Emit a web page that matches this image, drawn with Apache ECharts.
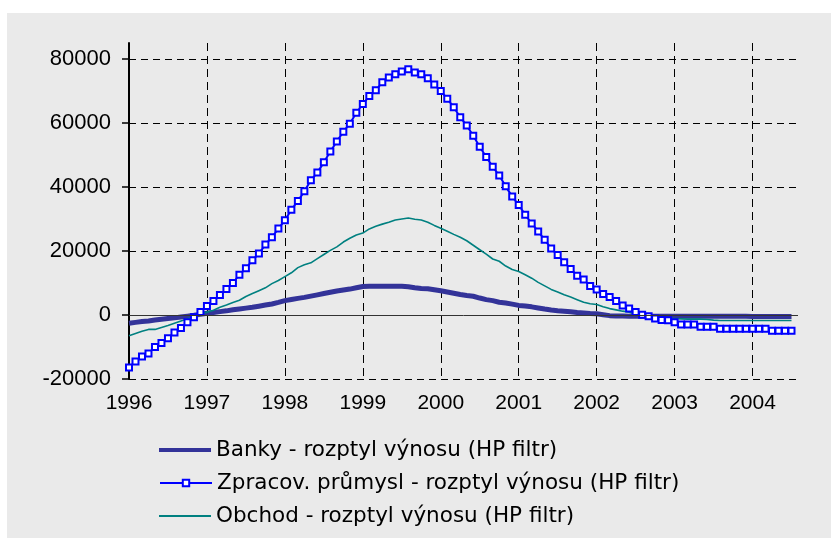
<!DOCTYPE html>
<html>
<head>
<meta charset="utf-8">
<script src="https://cdn.jsdelivr.net/npm/echarts@6/dist/echarts.min.js"></script>
<style>
body{margin:0;background:#fff;}
#frame{position:absolute;left:7px;top:13px;width:824px;height:525px;background:#eaeaea;}
#chart{position:absolute;left:0;top:0;width:831px;height:538px;}
</style>
</head>
<body>
<div id="frame"></div>
<div id="chart"></div>
<script>
// monthly data, Jan 1996 .. Jul 2004
var years = ['1996','1997','1998','1999','2000','2001','2002','2003','2004'];
var yTicks = [-20000, 0, 20000, 40000, 60000, 80000];
var names = [
    'Banky - rozptyl výnosu (HP filtr)',
    'Zpracov. průmysl - rozptyl výnosu (HP filtr)',
    'Obchod - rozptyl výnosu (HP filtr)'
];

var banky = [
    -2600,-2300,-2050,-1850,-1550,-1300,-1100,-900,-600,-350,-100,200,
    550,800,1050,1300,1650,1900,2150,2400,2750,3100,3450,3950,
    4500,4850,5200,5500,5900,6300,6700,7100,7500,7800,8100,8500,
    8900,8950,9000,9000,9000,9000,8950,8800,8500,8300,8200,7900,
    7600,7200,6800,6400,6100,5850,5300,4800,4500,4000,3750,3400,
    3000,2800,2550,2200,1850,1550,1350,1200,1000,800,650,500,
    400,100,-200,-300,-350,-400,-400,-400,-400,-400,-400,-400,
    -400,-400,-400,-400,-400,-400,-400,-400,-400,-400,-400,-400,
    -450,-450,-450,-450,-450,-450,-450
];
var zpracov = [
    -16400,-14500,-13000,-12000,-10000,-8750,-7300,-5500,-4100,-2300,-700,900,
    2800,4400,6250,8150,10000,12600,14600,17100,19200,22000,24300,27000,
    29600,32900,35600,38700,42100,44500,47700,51100,54200,57300,59800,63200,
    65900,68400,70200,72700,74200,75200,76100,76800,75800,75200,74000,72000,
    70000,67600,64900,61800,59200,56000,52600,49400,46300,43600,40200,37000,
    34400,31300,28600,26100,23500,20800,18750,16500,14400,12300,11100,9100,
    8000,6600,5600,4350,3000,2000,950,100,-400,-1100,-1600,-1650,
    -2300,-2950,-2950,-2950,-3650,-3650,-3650,-4300,-4300,-4300,-4300,-4300,
    -4300,-4300,-4300,-4900,-4900,-4900,-4900
];
var obchod = [
    -6500,-5800,-5100,-4500,-4500,-3900,-3300,-2600,-1900,-1200,-500,200,
    900,1500,2400,3100,3900,4600,5800,6700,7600,8500,9800,10800,
    12000,13200,14800,15700,16300,17600,18900,20200,21300,22800,24000,25000,
    25600,26900,27700,28400,29000,29700,30000,30300,29900,29700,29000,28000,
    27100,26200,25200,24300,23200,21800,20400,19000,17500,16800,15300,14200,
    13600,12600,11500,10200,9100,8000,7200,6300,5600,4800,4000,3500,
    3300,2600,2000,1600,1200,900,200,-100,-400,-700,-900,-1000,
    -1100,-1200,-1300,-1300,-1300,-1400,-1600,-1700,-1700,-1700,-1700,-1700,
    -1700,-1700,-1700,-1700,-1700,-1700,-1700
];

// month categories, one extra slot after the last point
var months = [];
years.forEach(function(y){
    for (var m = 1; m <= 12; m++) months.push(y + '-' + (m < 10 ? '0' + m : m));
});
months = months.slice(0, 104);

var font = 'Liberation Sans, Arial, sans-serif';
var legendFont = 'DejaVu Sans, sans-serif';
var isJan = function(idx){ return idx % 12 === 0; };

function legendRow(name, top, icon, h){
    var l = {
        left: 159, top: top, padding: 0,
        itemWidth: 52, itemHeight: h,
        textStyle: {fontSize:21.5, color:'#000', fontFamily:legendFont},
        data: [name]
    };
    if (icon) l.icon = icon;
    return l;
}

var chart = echarts.init(document.getElementById('chart'), null, {renderer:'canvas'});
var option = {
    animation: false,
    backgroundColor: 'transparent',
    grid: {left:129, right:33, top:43, bottom:159},
    legend: [
        legendRow(names[0], 439, 'rect', 4),
        legendRow(names[1], 472, null, 8),
        legendRow(names[2], 505, 'rect', 2)
    ],
    xAxis: {
        type: 'category',
        data: months,
        boundaryGap: false,
        axisLine: {show:false},
        axisTick: {show:false},
        axisLabel: {
            interval: isJan,
            formatter: function(v){ return v.slice(0,4); },
            color: '#000', fontSize: 21, fontFamily: font, margin: 14
        },
        splitLine: {
            show: true, interval: isJan,
            lineStyle: {color:'#000', width:1, type:[8,5]}
        }
    },
    yAxis: {
        type: 'value',
        min: -20000, max: 85000, interval: 20000,
        axisLine: {show:true, lineStyle:{color:'#000', width:2}},
        axisTick: {show:true, length:7, customValues: yTicks, lineStyle:{color:'#000', width:1.5}},
        axisLabel: {
            customValues: yTicks,
            formatter: function(v){ return String(v); },
            color:'#000', fontSize:22, fontFamily:font, margin:18
        },
        splitLine: {show:true, lineStyle:{color:'#000', width:1, type:[7,5]}}
    },
    series: [
        {
            name: names[0], type: 'line', data: banky,
            symbol: 'none', z: 2,
            lineStyle: {color:'#333399', width:5},
            itemStyle: {color:'#333399'},
            markLine: {
                silent: true, symbol: 'none', label: {show:false},
                lineStyle: {color:'#333', width:1, type:'solid'},
                data: [{yAxis:0}]
            }
        },
        {
            name: names[2], type: 'line', data: obchod,
            symbol: 'none', z: 3,
            lineStyle: {color:'#008080', width:1.6},
            itemStyle: {color:'#008080'}
        },
        {
            name: names[1], type: 'line', data: zpracov,
            symbol: 'rect', symbolSize: 6, showAllSymbol: true, z: 4,
            lineStyle: {color:'#0000ff', width:2},
            itemStyle: {color:'#fff', borderColor:'#0000ff', borderWidth:2}
        }
    ]
};
chart.setOption(option);
</script>
</body>
</html>
